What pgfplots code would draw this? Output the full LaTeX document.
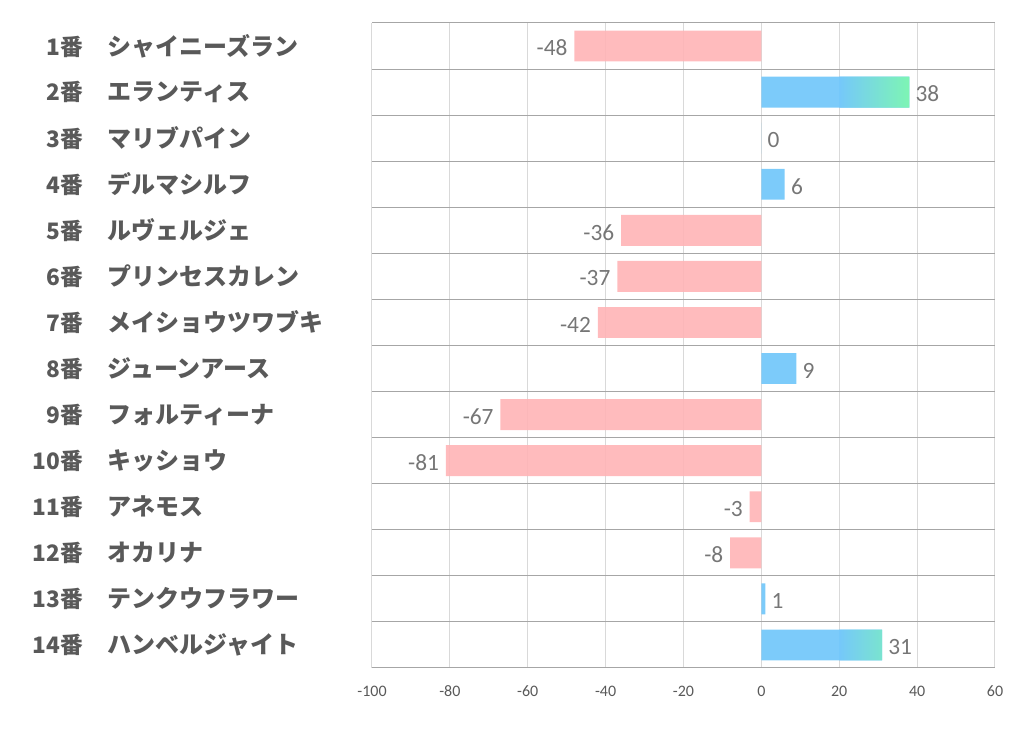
\documentclass[border=0pt]{standalone}
\usepackage{pgfplots}
\pgfplotsset{compat=1.18}
\usepackage{pgfplotstable}
\usepackage{fontspec}
\newfontfamily\jp{Noto Sans CJK JP}
\newfontfamily\calfont{Carlito}
\definecolor{pinkbar}{RGB}{255,180,182}
\definecolor{bluebar}{RGB}{117,200,250}
\definecolor{greenbar}{RGB}{125,245,180}
\definecolor{labgray}{RGB}{89,89,89}
\definecolor{valgray}{RGB}{118,118,118}
\definecolor{hgrid}{RGB}{166,166,166}
\definecolor{vgrid}{RGB}{217,217,217}
\newcommand\lab[2]{\makebox[0pt][r]{\fontsize{17}{20}\selectfont #1}\hspace{18.75pt}\makebox[198pt][l]{#2}}

\pgfplotstableread{
y v lab
0 -48 -48
4 -36 -36
5 -37 -37
6 -42 -42
8 -67 -67
9 -81 -81
10 -3 -3
11 -8 -8
}\negdata
\pgfplotstableread{
y v lab
1 38 38
2 0 0
3 6 6
7 9 9
12 1 1
13 31 31
}\posdata
\pgfplotstableread{
y base grad
1 20 18
13 20 11
}\graddata

\begin{document}
\begin{tikzpicture}
\pgfplotsset{
  common/.style={
    at={(0,0)}, anchor=south west,
    scale only axis, width=467.25pt, height=483.75pt,
    xmin=-100, xmax=60, ymin=-0.5, ymax=13.5, y dir=reverse,
    bar width=0.67, clip=false,
  }
}
\begin{axis}[
  common,
  xtick={-100,-80,-60,-40,-20,0,20,40,60},
  xticklabels={-100,-80,-60,-40,-20,0,20,40,60},
  ytick={0,1,...,13},
  yticklabels={
    \lab{1番}{シャイニーズラン},
    \lab{2番}{エランティス},
    \lab{3番}{マリブパイン},
    \lab{4番}{デルマシルフ},
    \lab{5番}{ルヴェルジェ},
    \lab{6番}{プリンセスカレン},
    \lab{7番}{メイショウツワブキ},
    \lab{8番}{ジューンアース},
    \lab{9番}{フォルティーナ},
    \lab{10番}{キッショウ},
    \lab{11番}{アネモス},
    \lab{12番}{オカリナ},
    \lab{13番}{テンクウフラワー},
    \lab{14番}{ハンベルジャイト}},
  minor ytick={-0.5,0.5,...,13.5},
  xmajorgrids, yminorgrids, ymajorgrids=false,
  major grid style={draw=vgrid, line width=0.75pt},
  minor grid style={draw=hgrid, line width=0.75pt},
  axis line style={draw=none},
  major tick length=0pt, minor tick length=0pt,
  xticklabel style={font=\calfont\fontsize{12}{14}\selectfont, text=labgray, yshift=-10pt},
  yticklabel style={font=\jp\bfseries\fontsize{18}{21}\selectfont, text=labgray, anchor=east, inner sep=0pt},
]
\addplot[xbar, bar shift=0pt, draw=none, fill=pinkbar, fill opacity=0.9] table[x=v, y=y] {\negdata};
\addplot[xbar, bar shift=0pt, draw=none, fill=bluebar, fill opacity=0.95] table[x=v, y=y] {\posdata};
\addplot[draw=none, mark=none, nodes near coords, point meta=explicit symbolic,
  every node near coord/.append style={anchor=east, xshift=-5pt, yshift=-1.5pt, inner sep=0pt,
    font=\calfont\fontsize{17.5}{20}\selectfont, text=valgray}]
  table[x=v, y=y, meta=lab] {\negdata};
\addplot[draw=none, mark=none, nodes near coords, point meta=explicit symbolic,
  every node near coord/.append style={anchor=west, xshift=4.5pt, yshift=-1.5pt, inner sep=0pt,
    font=\calfont\fontsize{17.5}{20}\selectfont, text=valgray}]
  table[x=v, y=y, meta=lab] {\posdata};
\end{axis}
\begin{axis}[common, hide axis, xbar stacked, bar shift=0pt]
\addplot[draw=none, fill=none, bar shift=0pt] table[x=base, y=y] {\graddata};
\addplot[draw=none, bar shift=0pt, left color=bluebar, right color=greenbar] table[x=grad, y=y] {\graddata};
\end{axis}
\path (-279pt,-46.5pt) rectangle (487.5pt,501pt);
\end{tikzpicture}
\end{document}
